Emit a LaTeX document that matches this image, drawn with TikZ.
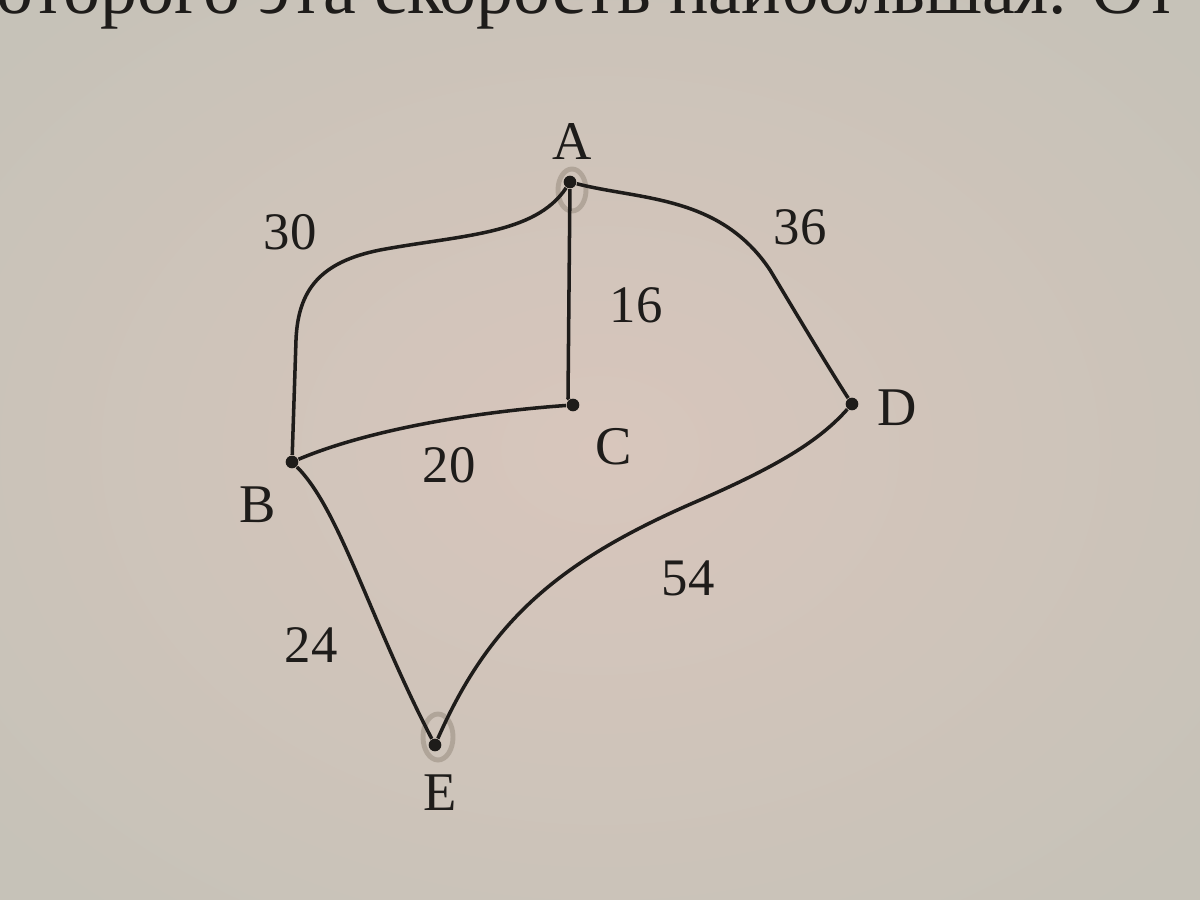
\documentclass[tikz,border=0pt]{standalone}
\usepackage{fontspec}
\setmainfont{Liberation Serif}
\definecolor{paper}{RGB}{208,199,188}
\definecolor{paperin}{RGB}{216,198,188}
\definecolor{paperout}{RGB}{198,194,184}
\definecolor{ink}{RGB}{30,28,26}
\tikzset{
  vertex/.style={circle,fill=ink,inner sep=0pt,minimum size=3.6pt},
  vlabel/.style={font=\fontsize{15.5pt}{15.5pt}\selectfont,text=ink},
  wlabel/.style={font=\fontsize{15pt}{15pt}\selectfont,text=ink},
  edge/.style={draw=ink,line width=1pt},
  pencilring/.style={draw=gray!80!brown,line width=1.4pt,opacity=0.45}
}
\begin{document}
\begin{tikzpicture}[x=0.01cm,y=-0.01cm]
\useasboundingbox (0,0) rectangle (1200,900);
\clip (0,0) rectangle (1200,900);
\fill[paper] (0,0) rectangle (1200,900);
\shade[inner color=paperin,outer color=paperout] (-200,-150) rectangle (1400,1050);
% line of text cut off at the top
\node[anchor=base west,inner sep=0pt,text=ink,font=\fontsize{21pt}{21pt}\selectfont] (toptext) at (-4,13) {оторого эта скорость наибольшая. От};
% pencil rings
\draw[pencilring] (572,190) ellipse (14 and 21);
\draw[pencilring] (438,737) ellipse (15 and 23);
% vertices
\node[vertex] (A) at (570,182) {};
\node[vertex] (C) at (573,405) {};
\node[vertex] (D) at (852,404) {};
\node[vertex] (B) at (292,462) {};
\node[vertex] (E) at (435,745) {};
\node[vlabel] (lA) at (572,142) {A};
\node[vlabel] (lB) at (258,505) {B};
\node[vlabel] (lC) at (614,447) {C};
\node[vlabel] (lD) at (897,408) {D};
\node[vlabel] (lE) at (440,793) {E};
% edges
\draw[edge] (A) .. controls (535,235) and (460,235) .. (380,250)
  .. controls (320,262) and (298,290) .. (296,340) -- (B);
\draw[edge] (A) -- (568,398) -- (C);
\draw[edge] (A) .. controls (640,200) and (720,195) .. (770,270)
  .. controls (800,320) and (830,370) .. (D);
\draw[edge] (B) .. controls (380,425) and (500,410) .. (C);
\draw[edge] (B) .. controls (340,510) and (370,620) .. (E);
\draw[edge] (E) .. controls (490,620) and (560,560) .. (700,500)
  .. controls (780,465) and (820,440) .. (D);
% weights
\node[wlabel] (w30) at (290,232) {30};
\node[wlabel] (w36) at (800,227) {36};
\node[wlabel] (w16) at (636,305) {16};
\node[wlabel] (w20) at (449,465) {20};
\node[wlabel] (w54) at (688,578) {54};
\node[wlabel] (w24) at (311,645) {24};
\end{tikzpicture}
\end{document}
